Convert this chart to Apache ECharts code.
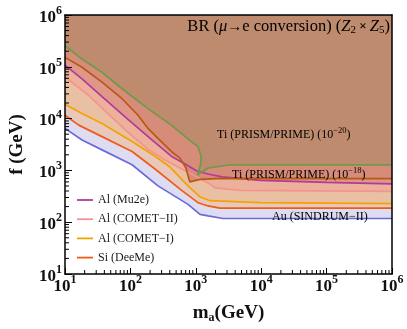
<!DOCTYPE html>
<html>
<head>
<meta charset="utf-8">
<script src="https://cdn.jsdelivr.net/npm/echarts@6/dist/echarts.min.js"></script>
<style>
  html, body { margin: 0; padding: 0; background: #fff; }
  #chart { width: 407px; height: 329px; }
</style>
</head>
<body>
<div id="chart"></div>
<script>
// Bounds in the (m_a, f) plane, both in GeV.
const sindrumX = [10, 18.2, 36.8, 106, 264, 760, 1160, 1540, 2610, 1e6];
const sindrumY = [6470, 3860, 2490, 1285, 503, 221, 142, 132, 118, 118];

const deemeX = [10, 16.2, 36.8, 106, 238, 594, 1080, 1540, 2340, 1e6];
const deemeY = [11600, 7480, 4490, 2320, 1064, 422, 238, 206, 187, 187];

const comet1X = [10, 18.2, 36.8, 106, 238, 403, 760, 1150, 1650, 9590, 1e6];
const comet1Y = [19000, 12500, 8060, 3600, 1880, 1160, 503, 310, 260, 238, 228];

const comet2X = [10, 23.0, 46.5, 91.8, 186, 338, 573, 972, 1540, 1970, 4740, 1e6];
const comet2Y = [63000, 28000, 12000, 5420, 2560, 1580, 1110, 782, 574, 460, 413, 395];

const mu2eX = [10, 18.2, 36.8, 91.8, 200, 422, 684, 1040, 1540, 2520, 9590, 1e5, 1e6];
const mu2eY = [108000, 58400, 26500, 9620, 4170, 1880, 1325, 975, 853, 748, 641, 587, 550];

const ti18X = [10, 18.2, 36.8, 74.5, 131, 186, 264, 422, 573, 708, 807, 1160, 2500, 1e6];
const ti18Y = [152000, 98000, 50600, 24200, 11600, 6470, 4170, 2320, 1730, 1110, 600, 670, 700, 694];

const ti20X = [10, 18.2, 36.8, 74.5, 186, 422, 853, 1080, 1210, 1180, 1060, 1540, 3330, 1e6];
const ti20Y = [255000, 141000, 78500, 37700, 15600, 7480, 3600, 2890, 1860, 1270, 817, 1110, 1285, 1280];

// Legend entries
const legendNames = ['Al (Mu2e)', 'Al (COMET\u2212II)', 'Al (COMET\u2212I)', 'Si (DeeMe)'];
const axisMin = 10, axisMax = 1e6;

const curves = [
  { name: 'Au (SINDRUM\u2212II)', x: sindrumX, y: sindrumY, line: '#6b6bd8', fill: '#dddcf2' },
  { name: 'Si (DeeMe)',          x: deemeX,   y: deemeY,   line: '#ee5c16', fill: '#e8c8bc' },
  { name: 'Al (COMET\u2212I)',   x: comet1X,  y: comet1Y,  line: '#f4a202', fill: '#e9c1a2' },
  { name: 'Al (COMET\u2212II)',  x: comet2X,  y: comet2Y,  line: '#f59292', fill: '#ecb09b' },
  { name: 'Al (Mu2e)',           x: mu2eX,    y: mu2eY,    line: '#b23a9c', fill: '#de9788' },
  { name: 'Ti18',                x: ti18X,    y: ti18Y,    line: '#b65a12', fill: '#d78b79' },
  { name: 'Ti20',                x: ti20X,    y: ti20Y,    line: '#6e9a4a', fill: '#bf8b6e' }
];

const pairs = c => c.x.map((v, i) => [v, c.y[i]]);

const series = [];
// shaded regions above every bound, widest first
curves.forEach(c => {
  series.push({
    type: 'line', name: c.name + ' region', data: pairs(c),
    symbol: 'none', silent: true, z: 2,
    lineStyle: { width: 0 },
    areaStyle: { origin: 'end', color: c.fill, opacity: 1 }
  });
});
// boundary lines on top of all shading
curves.forEach(c => {
  series.push({
    type: 'line', name: c.name, data: pairs(c),
    symbol: 'none', silent: true, z: 3, color: c.line,
    lineStyle: { color: c.line, width: 1.7 },
    itemStyle: { color: c.line }
  });
});

const serif = 'Liberation Serif';
const tickRich = {
  b: { fontFamily: serif, fontWeight: 'bold', fontSize: 17, color: '#111' },
  e: { fontFamily: serif, fontWeight: 'bold', fontSize: 12, color: '#111', padding: [0, 0, 13, 0] }
};
const powLabel = v => '{b|10}{e|' + Math.round(Math.log10(v)) + '}';
const frame = { show: true, lineStyle: { color: '#000', width: 1.5 } };

const chart = echarts.init(document.getElementById('chart'), null, { renderer: 'canvas' });
chart.setOption({
  animation: false,
  backgroundColor: '#fff',
  grid: { left: 65, right: 15, top: 15, bottom: 52 },
  legend: {
    data: legendNames,
    orient: 'vertical', left: 77, top: 194, padding: 0,
    icon: 'path://M0,0H16V1.8H0Z',
    itemWidth: 16, itemHeight: 14, itemGap: 7.2,
    textStyle: { fontFamily: serif, fontSize: 12, color: '#1a1a1a' }
  },
  xAxis: [
    {
      type: 'log', logBase: 10, min: axisMin, max: axisMax, splitNumber: 5, z: 10,
      axisLine: frame,
      axisTick: { inside: true, length: 6, lineStyle: { color: '#000', width: 1 } },
      axisLabel: { margin: 0, formatter: powLabel, rich: tickRich },
      splitLine: { show: false },
      name: '{m|m}{s|a}{m|(GeV)}', nameLocation: 'middle', nameGap: 29,
      nameTextStyle: { rich: {
        m: { fontFamily: serif, fontWeight: 'bold', fontSize: 19, color: '#111' },
        s: { fontFamily: serif, fontWeight: 'bold', fontSize: 12, color: '#111', padding: [9, 0, 0, 0] }
      } }
    },
    {
      type: 'log', logBase: 10, min: axisMin, max: axisMax, position: 'top', z: 10,
      axisLine: frame, axisTick: { show: false }, axisLabel: { show: false }, splitLine: { show: false }
    }
  ],
  yAxis: [
    {
      type: 'log', logBase: 10, min: axisMin, max: axisMax, splitNumber: 5, z: 10,
      axisLine: frame,
      axisTick: { inside: true, length: 7, lineStyle: { color: '#000', width: 1 } },
      axisLabel: { margin: 3, padding: [5, 0, 0, 0], formatter: powLabel, rich: tickRich },
      splitLine: { show: false },
      name: 'f (GeV)', nameLocation: 'middle', nameGap: 38,
      nameTextStyle: { fontFamily: serif, fontWeight: 'bold', fontSize: 19, color: '#111' }
    },
    {
      type: 'log', logBase: 10, min: axisMin, max: axisMax, position: 'right', z: 10,
      axisLine: frame, axisTick: { show: false }, axisLabel: { show: false }, splitLine: { show: false }
    }
  ],
  series: series
});

// minor ticks at 2..9 of every decade, drawn inward
const x0 = chart.convertToPixel({ xAxisIndex: 0 }, axisMin);
const y0 = chart.convertToPixel({ yAxisIndex: 0 }, axisMin);
const graphics = [];
for (let d = 1; d < 6; d++) {
  for (let k = 2; k <= 9; k++) {
    const v = k * Math.pow(10, d);
    const px = chart.convertToPixel({ xAxisIndex: 0 }, v);
    const py = chart.convertToPixel({ yAxisIndex: 0 }, v);
    graphics.push({ type: 'line', silent: true, z: 20,
      shape: { x1: px, y1: y0, x2: px, y2: y0 - 4 }, style: { stroke: '#000', lineWidth: 1 } });
    graphics.push({ type: 'line', silent: true, z: 20,
      shape: { x1: x0, y1: py, x2: x0 + 4, y2: py }, style: { stroke: '#000', lineWidth: 1 } });
  }
}

const capRich = {
  n: { fontFamily: serif, fontSize: 12, color: '#222' },
  p: { fontFamily: serif, fontSize: 8.5, color: '#222', padding: [0, 0, 8, 0] }
};
const titleRich = {
  n: { fontFamily: serif, fontSize: 16.5, color: '#222' },
  i: { fontFamily: serif, fontSize: 16.5, fontStyle: 'italic', color: '#222' },
  a: { fontFamily: serif, fontSize: 15, color: '#222' },
  s: { fontFamily: serif, fontSize: 11, color: '#222', padding: [7, 0, 0, 0] },
  x: { fontFamily: serif, fontSize: 13, fontWeight: 'bold', color: '#222' }
};
const captions = [
  { text: '{n|BR (}{i|\u03bc}{a|\u2192}{n|e conversion) (}{i|Z}{s|2}{x| \u00d7 }{i|Z}{s|5}{n|)}',
    x: 390, y: 27, align: 'right', rich: titleRich },
  { text: '{n|Ti (PRISM/PRIME) (10}{p|\u221220}{n|)}', x: 217, y: 135, align: 'left', rich: capRich },
  { text: '{n|Ti (PRISM/PRIME) (10}{p|\u221218}{n|)}', x: 232, y: 175, align: 'left', rich: capRich },
  { text: '{n|Au (SINDRUM\u2212II)}', x: 272, y: 217, align: 'left', rich: capRich }
];
captions.forEach(c => {
  graphics.push({ type: 'text', silent: true, z: 30,
    style: { text: c.text, x: c.x, y: c.y, align: c.align, verticalAlign: 'middle', rich: c.rich } });
});

chart.setOption({ graphic: graphics });
</script>
</body>
</html>
